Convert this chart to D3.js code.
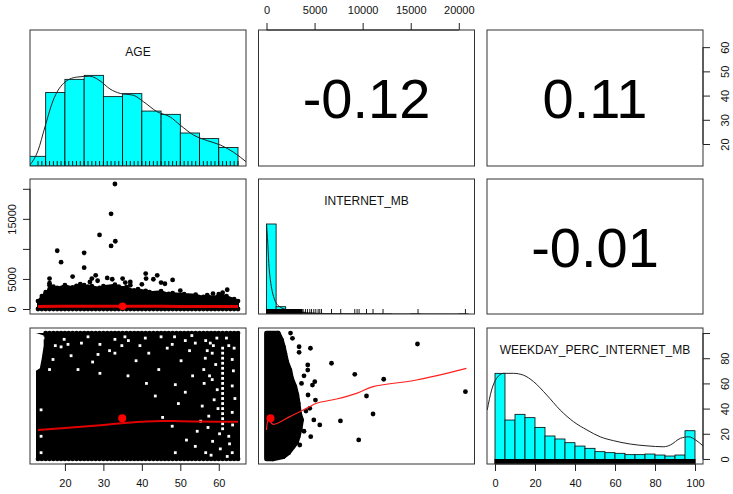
<!DOCTYPE html>
<html>
<head>
<meta charset="utf-8">
<script src="https://cdn.jsdelivr.net/npm/d3@7/dist/d3.min.js"></script>
<style>
  body { margin: 0; background: #fff; }
  svg text { font-family: "Liberation Sans", Arial, sans-serif; }
</style>
</head>
<body>
<div id="chart"></div>
<script>
var varNames = ["AGE", "INTERNET_MB", "WEEKDAY_PERC_INTERNET_MB"]
var varRanges = [[13, 65], [0, 20800], [0, 100]]
var corrCells = [
    { row: 0, col: 1, r: "-0.12" },
    { row: 0, col: 2, r: "0.11" },
    { row: 1, col: 2, r: "-0.01" }
]

// tick values / which ones get a label
var ageTicks = [20, 30, 40, 50, 60]
var mbTicks = [0, 5000, 10000, 15000, 20000]
var mbLeftLabels = [0, 5000, 15000]
var wkTicks = [0, 20, 40, 60, 80, 100]
var wkRightLabels = [0, 20, 40, 60, 80]

// diagonal: histogram breaks, heights scaled to max 1, density scaled to max 1
var ageBreaks = [10, 15, 20, 25, 30, 35, 40, 45, 50, 55, 60, 65]
var ageHeights = [0.107, 0.81, 0.956, 1.0, 0.765, 0.798, 0.606, 0.57, 0.364, 0.302, 0.203]
var ageDensity = [[10.9, 0.01], [13.0, 0.17], [14.8, 0.43], [16.9, 0.72], [19.6, 0.91], [23.0, 0.98],
    [26.5, 0.99], [29.1, 0.94], [31.7, 0.85], [34.4, 0.80], [37.8, 0.78], [40.4, 0.71], [43.9, 0.60],
    [47.4, 0.54], [50.0, 0.45], [53.5, 0.34], [57.0, 0.28], [60.5, 0.23], [63.9, 0.15], [67.3, 0.04]]
var ageValues = [13, 14, 15, 16, 17, 18, 19, 20, 21, 22, 23, 24, 25, 26, 27, 28, 29, 30, 31, 32, 33, 34,
    35, 36, 37, 38, 39, 40, 41, 42, 43, 44, 45, 46, 47, 48, 49, 50, 51, 52, 53, 54, 55, 56, 57, 58, 59,
    60, 61, 62, 63, 64, 65]

var mbBreaks = [0, 1000, 2000, 3000, 4000, 5000, 6000, 7000, 8000, 9000, 10000, 11000, 12000, 13000,
    14000, 15000, 16000, 17000, 18000, 19000, 20000, 21000]
var mbHeights = [1.0, 0.081, 0.035, 0.02, 0.01, 0.006, 0.003, 0.002, 0.001, 0.001, 0.001, 0.001, 0.001,
    0, 0, 0.001, 0, 0, 0, 0, 0.001]
var mbDensity = [[0, 1.0], [100, 0.85], [240, 0.56], [400, 0.38], [600, 0.25], [860, 0.155], [1380, 0.08],
    [2250, 0.044], [3500, 0.02], [5000, 0.008], [8000, 0.003], [12000, 0.001], [20800, 0]]
var mbRugDense = [0, 3700]
var mbRugValues = [3810, 4050, 4260, 4500, 4680, 4920, 5130, 5370, 5540, 5720, 6760, 7720, 9180, 9420,
    9630, 10400, 11080, 12120, 15760, 20690]

var wkBreaks = [0, 5, 10, 15, 20, 25, 30, 35, 40, 45, 50, 55, 60, 65, 70, 75, 80, 85, 90, 95, 100]
var wkHeights = [1.0, 0.485, 0.548, 0.511, 0.404, 0.309, 0.276, 0.235, 0.198, 0.173, 0.136, 0.125, 0.118,
    0.103, 0.103, 0.11, 0.099, 0.088, 0.099, 0.367]
var wkDensity = [[-3.9, 0.595], [-1.7, 0.816], [0.8, 0.945], [4.2, 1.0], [9.2, 1.0], [14.2, 0.98],
    [19.2, 0.91], [25.9, 0.76], [32.6, 0.595], [39.3, 0.466], [46, 0.375], [52.6, 0.30], [59.3, 0.257],
    [67.7, 0.22], [76, 0.20], [84.4, 0.19], [87.7, 0.21], [92.7, 0.283], [96.9, 0.30], [100.3, 0.265],
    [104.1, 0.198]]
var wkRugDense = [0, 100]

// AGE vs INTERNET_MB: top edge of the solid cloud, stray points, smoother, mean
var ageMbEnvelope = [[13, 1320], [14, 2150], [15, 2800], [16, 3300], [17, 3710], [18, 3500], [20, 3960],
    [22, 3600], [24, 4130], [26, 3700], [27, 3800], [29, 3500], [30, 3800], [33, 4040], [34, 3700],
    [36, 3630], [38, 3100], [39, 3300], [41, 3000], [42, 2800], [45, 2970], [47, 2500], [48, 2640],
    [51, 2480], [54, 2390], [56, 2000], [57, 2310], [59, 1900], [60, 2480], [62, 2150], [64, 1650], [65, 1320]]
var ageMbPoints = [[33, 20800], [32, 15840], [29, 12330], [33.1, 11270], [32, 10500], [18, 9690],
    [25, 9350], [19, 7800], [25, 6880], [16, 5070], [22, 5400], [28, 5610], [27, 5070], [31, 5170],
    [32.3, 4950], [35, 5070], [35.7, 4400], [37, 4510], [41, 5890], [41.1, 5070], [43, 4950], [44, 5610],
    [45, 4400], [48, 4840], [23, 3850], [25, 3960], [16, 3960], [16, 4300], [37, 3960], [50, 3060],
    [61, 2700], [62.2, 3200], [58.5, 2550], [26.5, 4500], [28.5, 4700], [40, 4100], [46, 4200]]
var ageMbSmooth = [[13, 430], [25, 450], [35, 455], [45, 440], [55, 420], [65, 410]]
var ageMbMean = [35, 445]

// AGE vs WEEKDAY_PERC: cloud is solid, left edge profile and white holes
var ageWkLeftEdge = [[100, 13], [98, 15], [90, 15], [80, 14.5], [72, 14], [70, 13], [0, 13]]
var ageWkGaps = [[14.3, 96], [19, 89], [20.8, 91], [24.3, 92], [29.1, 91], [33, 95], [36.5, 94],
    [21.6, 82], [28.6, 83], [33, 84], [16, 71], [29.1, 68], [36.4, 66], [23.4, 71], [16.9, 79],
    [13.8, 39], [13.8, 18], [13.8, 5], [40.9, 96], [41.8, 84], [47.9, 91], [51.3, 94], [53.9, 92],
    [56.6, 94], [57, 86], [58.3, 84], [56.1, 71], [58.3, 63], [62.6, 90], [63.5, 79], [63.5, 58],
    [63.5, 37], [62.6, 18], [63.5, 5], [55.7, 42], [57.4, 34], [53.9, 10], [56.6, 5], [43.5, 50],
    [48.7, 59], [51.3, 53], [47.9, 26], [48.7, 5], [44.4, 71], [59.5, 96], [62, 96], [45, 97], [26, 97],
    [61, 88], [61, 84], [61, 80], [61, 76], [61, 72], [61, 68], [61, 64], [61, 60], [61, 56], [61, 52],
    [61, 48], [61, 44], [61, 40], [61, 36], [61, 32], [61, 28], [61, 24],
    [57.8, 92], [58.6, 90], [56.5, 80], [59.2, 75], [57.6, 66], [59.6, 55], [58.8, 47], [56.2, 60],
    [59.8, 40], [60.2, 20], [58.4, 14], [57.2, 25], [55.3, 30], [63.8, 70], [64.2, 48], [63.6, 27],
    [62.8, 12], [64, 88], [52.4, 86], [50.2, 78], [46.6, 88], [39.5, 90], [34.8, 90], [31.6, 86],
    [38.5, 78], [27.2, 77], [19.8, 95], [17.5, 90], [53.2, 66], [49.5, 44], [54.4, 22], [45.4, 33],
    [51.6, 15], [41.2, 60], [60.4, 8], [62.2, 2], [58, 3], [35.6, 97], [48.5, 97], [53, 98]]
var ageWkSmooth = [[13, 23], [20, 24.5], [30, 27], [40, 29.5], [45, 30.2], [50, 30], [60, 29.6], [65, 29.5]]
var ageWkMean = [34.9, 32.3]

// INTERNET_MB vs WEEKDAY_PERC: right edge of the cloud per percentage, stray points, smoother, mean
var mbWkEnvelope = [[0, 660], [1.8, 1730], [5, 2300], [9.8, 2770], [13, 3100], [17.7, 3290], [24, 3500],
    [31, 3640], [37, 3400], [44.2, 3290], [51, 3150], [57.4, 2940], [64, 2600], [70.6, 2420], [77, 2100],
    [83.9, 1900], [89, 1750], [94.4, 1560], [100, 1210]]
var mbWkPoints = [[2500, 100], [15700, 91.3], [20690, 53.4], [6760, 76], [9180, 67.2], [12190, 63.3],
    [10400, 50], [11080, 35.7], [7690, 30.2], [9590, 15.1], [4570, 87.9], [3390, 89.1], [3390, 84.7],
    [4290, 74.6], [4290, 70.6], [3640, 60], [5020, 61.4], [4780, 58.7], [4320, 50.8], [5090, 46.8],
    [4500, 40.2], [4920, 31], [5540, 27], [4600, 17.7], [3460, 11.1], [2700, 95.8], [3900, 66],
    [4100, 38], [3900, 22]]
var mbWkSmooth = [[0, 23], [210, 31], [690, 27.5], [2420, 33.6], [4160, 40.2], [5200, 44.2], [7280, 47.6],
    [9360, 52.1], [11080, 57.4], [15590, 62.7], [20790, 72]]
var mbWkMean = [415, 32.3]

var colX = [30, 258.5, 487], colW = 216
var rowY = [30, 179, 328], rowH = [136, 135, 136]
var dotR = 2.4

var svg = d3.select("#chart").append("svg")
    .attr("width", 733)
    .attr("height", 494)

function ext(r) {
    var pad = (r[1] - r[0]) * 0.04
    return [r[0] - pad, r[1] + pad]
}
var xScales = varRanges.map(function(r, i) {
    return d3.scaleLinear().domain(ext(r)).range([colX[i], colX[i] + colW])
})
var yScales = varRanges.map(function(r, i) {
    return d3.scaleLinear().domain(ext(r)).range([rowY[i] + rowH[i], rowY[i]])
})

/* clip paths, one per panel */
var defs = svg.append("defs")
for (var r = 0; r < 3; r++) {
    for (var c = 0; c < 3; c++) {
        defs.append("clipPath").attr("id", "clip" + r + c)
            .append("rect")
            .attr("x", colX[c]).attr("y", rowY[r])
            .attr("width", colW).attr("height", rowH[r])
    }
}
function panel(r, c) {
    return svg.append("g").attr("clip-path", "url(#clip" + r + c + ")")
}

/* diagonal histograms */
function drawHist(i, breaks, heights, density, rugDense, rugValues) {
    var g = panel(i, i)
    var x = xScales[i]
    var y = d3.scaleLinear().domain([0, 1.5]).range([rowY[i] + rowH[i], rowY[i]])
    g.selectAll(".bar")
        .data(heights)
        .enter()
        .append("rect")
        .attr("x", function(d, k) { return x(breaks[k]) })
        .attr("width", function(d, k) { return x(breaks[k + 1]) - x(breaks[k]) })
        .attr("y", function(d) { return y(d) })
        .attr("height", function(d) { return y(0) - y(d) })
        .attr("fill", "#00FFFF")
        .attr("stroke", "#000")
        .attr("stroke-width", 0.8)

    g.append("path")
        .datum(density)
        .attr("d", d3.line().curve(d3.curveMonotoneX)
            .x(function(d) { return x(d[0]) })
            .y(function(d) { return y(d[1]) }))
        .attr("fill", "none")
        .attr("stroke", "#222")
        .attr("stroke-width", 1)

    var rugH = 5
    if (rugDense) {
        g.append("rect")
            .attr("x", x(rugDense[0]) - 0.5)
            .attr("width", x(rugDense[1]) - x(rugDense[0]) + 1)
            .attr("y", y(0) - rugH)
            .attr("height", rugH)
            .attr("fill", "#000")
    }
    g.selectAll(".rug")
        .data(rugValues)
        .enter()
        .append("line")
        .attr("x1", function(d) { return x(d) })
        .attr("x2", function(d) { return x(d) })
        .attr("y1", y(0))
        .attr("y2", y(0) - rugH)
        .attr("stroke", "#000")
        .attr("stroke-width", 0.9)

    svg.append("text")
        .attr("x", colX[i] + colW / 2)
        .attr("y", rowY[i] + 26.3)
        .attr("text-anchor", "middle")
        .attr("font-size", "12px")
        .attr("fill", "#111")
        .text(varNames[i])
}
drawHist(0, ageBreaks, ageHeights, ageDensity, null, ageValues)
drawHist(1, mbBreaks, mbHeights, mbDensity, mbRugDense, mbRugValues)
drawHist(2, wkBreaks, wkHeights, wkDensity, wkRugDense, [])

/* AGE vs INTERNET_MB (row 2, col 1) */
var g21 = panel(1, 0)
var xa = xScales[0], ym = yScales[1]
g21.append("path")
    .datum(ageMbEnvelope)
    .attr("d", d3.area()
        .x(function(d) { return xa(d[0]) })
        .y0(ym(0))
        .y1(function(d) { return ym(d[1]) }))
    .attr("fill", "#000")
    .attr("stroke", "#000")
    .attr("stroke-width", 2)
g21.selectAll(".env")
    .data(ageMbEnvelope.concat(ageMbPoints))
    .enter()
    .append("circle")
    .attr("cx", function(d) { return xa(d[0]) })
    .attr("cy", function(d) { return ym(d[1]) })
    .attr("r", dotR)
    .attr("fill", "#000")
g21.selectAll(".base")
    .data(ageValues)
    .enter()
    .append("circle")
    .attr("cx", function(d) { return xa(d) })
    .attr("cy", ym(0))
    .attr("r", dotR)
    .attr("fill", "#000")
g21.append("path")
    .datum(ageMbSmooth)
    .attr("d", d3.line().curve(d3.curveMonotoneX)
        .x(function(d) { return xa(d[0]) })
        .y(function(d) { return ym(d[1]) }))
    .attr("fill", "none")
    .attr("stroke", "#E00000")
    .attr("stroke-width", 3)
g21.append("circle")
    .attr("cx", xa(ageMbMean[0]))
    .attr("cy", ym(ageMbMean[1]))
    .attr("r", 3.8)
    .attr("fill", "#FF0000")

/* AGE vs WEEKDAY_PERC (row 3, col 1) */
var g31 = panel(2, 0)
var yw = yScales[2]
g31.append("path")
    .datum(ageWkLeftEdge)
    .attr("d", d3.area()
        .y(function(d) { return yw(d[0]) })
        .x0(function(d) { return xa(d[1]) - 2 })
        .x1(xa(65) + 2))
    .attr("fill", "#000")
g31.selectAll(".edge")
    .data(ageValues.map(function(a) { return [a, 0] })
        .concat(ageValues.filter(function(a) { return a >= 15 }).map(function(a) { return [a, 100] })))
    .enter()
    .append("circle")
    .attr("cx", function(d) { return xa(d[0]) })
    .attr("cy", function(d) { return yw(d[1]) })
    .attr("r", dotR)
    .attr("fill", "#000")
g31.selectAll(".gap")
    .data(ageWkGaps)
    .enter()
    .append("rect")
    .attr("x", function(d) { return xa(d[0]) - 1.4 })
    .attr("y", function(d) { return yw(d[1]) - 1.4 })
    .attr("width", 2.8)
    .attr("height", 2.8)
    .attr("fill", "#fff")
g31.append("path")
    .datum(ageWkSmooth)
    .attr("d", d3.line().curve(d3.curveMonotoneX)
        .x(function(d) { return xa(d[0]) })
        .y(function(d) { return yw(d[1]) }))
    .attr("fill", "none")
    .attr("stroke", "#E00000")
    .attr("stroke-width", 2)
g31.append("circle")
    .attr("cx", xa(ageWkMean[0]))
    .attr("cy", yw(ageWkMean[1]))
    .attr("r", 4)
    .attr("fill", "#FF0000")

/* INTERNET_MB vs WEEKDAY_PERC (row 3, col 2) */
var g32 = panel(2, 1)
var xm = xScales[1]
g32.append("path")
    .datum(mbWkEnvelope)
    .attr("d", d3.area()
        .y(function(d) { return yw(d[0]) })
        .x0(xm(0))
        .x1(function(d) { return xm(d[1]) }))
    .attr("fill", "#000")
    .attr("stroke", "#000")
    .attr("stroke-width", dotR * 2)
    .attr("stroke-linejoin", "round")
g32.selectAll(".pt")
    .data(mbWkEnvelope.map(function(d) { return [d[1], d[0]] }).concat(mbWkPoints))
    .enter()
    .append("circle")
    .attr("cx", function(d) { return xm(d[0]) })
    .attr("cy", function(d) { return yw(d[1]) })
    .attr("r", dotR)
    .attr("fill", "#000")
g32.append("path")
    .datum(mbWkSmooth)
    .attr("d", d3.line().curve(d3.curveCatmullRom)
        .x(function(d) { return xm(d[0]) })
        .y(function(d) { return yw(d[1]) }))
    .attr("fill", "none")
    .attr("stroke", "#FF2020")
    .attr("stroke-width", 1.2)
g32.append("circle")
    .attr("cx", xm(mbWkMean[0]))
    .attr("cy", yw(mbWkMean[1]))
    .attr("r", 4)
    .attr("fill", "#FF0000")

/* correlations in the upper panels */
svg.selectAll(".corr")
    .data(corrCells)
    .enter()
    .append("text")
    .attr("x", function(d) { return colX[d.col] + colW / 2 })
    .attr("y", function(d) { return rowY[d.row] + rowH[d.row] / 2 + 20 })
    .attr("text-anchor", "middle")
    .attr("font-size", "56px")
    .attr("fill", "#000")
    .text(function(d) { return d.r })

/* panel boxes */
for (var r = 0; r < 3; r++) {
    for (var c = 0; c < 3; c++) {
        svg.append("rect")
            .attr("x", colX[c]).attr("y", rowY[r])
            .attr("width", colW).attr("height", rowH[r])
            .attr("fill", "none")
            .attr("stroke", "#333")
            .attr("stroke-width", 1)
    }
}

/* axes */
function drawAxis(orient, scale, pos, ticks, labels) {
    var maker = { top: d3.axisTop, bottom: d3.axisBottom, left: d3.axisLeft, right: d3.axisRight }[orient]
    var horiz = orient === "top" || orient === "bottom"
    var axis = maker(scale).tickValues(ticks).tickSize(7).tickSizeOuter(0)
        .tickFormat(function(d) { return labels.indexOf(d) >= 0 ? d : "" })
    var g = svg.append("g")
        .attr("transform", horiz ? "translate(0," + pos + ")" : "translate(" + pos + ",0)")
        .call(axis)
    g.select(".domain").remove()
    g.attr("font-size", 11).attr("font-family", null)
    g.selectAll(".tick line").attr("stroke", "#222")
    var lo = scale(ticks[0]), hi = scale(ticks[ticks.length - 1])
    g.append("line")
        .attr("x1", horiz ? lo : 0).attr("x2", horiz ? hi : 0)
        .attr("y1", horiz ? 0 : lo).attr("y2", horiz ? 0 : hi)
        .attr("stroke", "#222")
    var t = g.selectAll(".tick text").attr("fill", "#111")
    if (orient === "top") t.attr("y", -16)
    if (orient === "bottom") t.attr("y", 15)
    if (orient === "left" || orient === "right") {
        t.attr("x", 0).attr("dy", "0.35em").attr("text-anchor", "middle")
            .attr("transform", "translate(" + (orient === "left" ? -18.3 : 22) + ",0) rotate(-90)")
    }
}
drawAxis("top", xScales[1], rowY[0], mbTicks, mbTicks)
drawAxis("right", yScales[0], colX[2] + colW, ageTicks, ageTicks)
drawAxis("left", yScales[1], colX[0], mbTicks, mbLeftLabels)
drawAxis("bottom", xScales[0], rowY[2] + rowH[2], ageTicks, ageTicks)
drawAxis("right", yScales[2], colX[2] + colW, wkTicks, wkRightLabels)
drawAxis("bottom", xScales[2], rowY[2] + rowH[2], wkTicks, wkTicks)
</script>
</body>
</html>
